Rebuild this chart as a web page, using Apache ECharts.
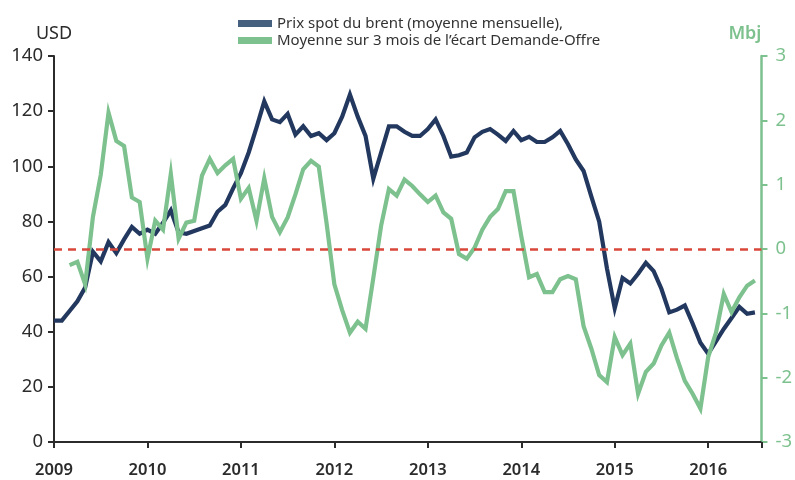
<!DOCTYPE html>
<html><head><meta charset="utf-8">
<script src="https://cdn.jsdelivr.net/npm/echarts@6/dist/echarts.min.js"></script>
<style>html,body{margin:0;padding:0;background:#fff}#c{width:795px;height:480px}</style>
</head><body><div id="c"></div>
<script>
// Monthly series, first value = January 2009
const startYear = 2009;
const brentName = 'Prix spot du brent (moyenne mensuelle),';
const gapName = 'Moyenne sur 3 mois de l’écart Demande-Offre';
// Brent spot price, USD (monthly average)
const brent = [
  44, 44, 47.5, 51, 56, 69, 65.5, 72.5, 68.5, 73.5, 78, 75.5,          // 2009
  77, 75.5, 79.5, 84, 76, 75.5, 76.5, 77.5, 78.5, 83.5, 86, 92,        // 2010
  97.5, 105, 114, 123.5, 117, 116, 119, 111.5, 114.5, 111, 112, 109.5, // 2011
  112, 118, 126, 118, 111, 95.5, 105, 114.5, 114.5, 112.5, 111, 111,   // 2012
  113.5, 117, 111, 103.5, 104, 105, 110.5, 112.5, 113.5, 111.5, 109.2, 112.8, // 2013
  109.5, 110.7, 108.8, 108.8, 110.5, 112.8, 108, 102.5, 98.3, 89, 80, 63,    // 2014
  48.5, 59.5, 57.5, 61, 65, 62, 55.5, 47, 48, 49.5, 43, 36,            // 2015
  32, 36.5, 41, 45, 49, 46.5, 47                                       // 2016
];
// 3-month average of demand-supply gap, Mbj
const gap = [
  null, null, -0.25, -0.2, -0.55, 0.5, 1.15, 2.12, 1.68, 1.6, 0.8, 0.73,   // 2009
  -0.15, 0.44, 0.3, 1.17, 0.16, 0.41, 0.44, 1.14, 1.4, 1.18, 1.3, 1.4,    // 2010
  0.78, 0.95, 0.44, 1.1, 0.5, 0.26, 0.49, 0.85, 1.24, 1.37, 1.28, 0.4,    // 2011
  -0.55, -0.95, -1.3, -1.13, -1.24, -0.45, 0.36, 0.93, 0.83, 1.08, 0.98, 0.85, // 2012
  0.73, 0.83, 0.57, 0.47, -0.08, -0.15, 0.02, 0.3, 0.5, 0.62, 0.9, 0.9,   // 2013
  0.2, -0.44, -0.39, -0.67, -0.67, -0.47, -0.42, -0.47, -1.2, -1.55, -1.96, -2.07, // 2014
  -1.37, -1.65, -1.47, -2.25, -1.91, -1.78, -1.5, -1.3, -1.7, -2.05, -2.25, -2.48, // 2015
  -1.68, -1.3, -0.7, -0.98, -0.75, -0.57, -0.49                           // 2016
];
const gapZero = 0;

const navy = '#23385f', green = '#7dc18e', red = '#d9473b', ink = '#2b2b2b';
const font = 'Noto Sans';
const toX = i => startYear + i / 12;
const brentData = brent.map((v, i) => [toX(i), v]);
const gapData = gap.map((v, i) => v === null ? null : [toX(i), v]).filter(d => d);

const chart = echarts.init(document.getElementById('c'), null, {renderer: 'canvas'});
chart.setOption({
  animation: false,
  textStyle: {fontFamily: font},
  grid: {left: 54, right: 31, top: 56, bottom: 38, containLabel: false},
  legend: {
    orient: 'vertical', left: 233, top: 11, itemGap: 2,
    itemWidth: 34, itemHeight: 7, icon: 'rect',
    textStyle: {fontFamily: font, fontSize: 15, color: '#333', padding: [0, 0, 0, 0]},
    data: [
      {name: brentName, itemStyle: {color: '#46607f'}},
      {name: gapName, itemStyle: {color: green}}
    ]
  },
  xAxis: {
    type: 'value', min: 2009, max: 2016.57, interval: 1,
    axisLine: {show: true, lineStyle: {color: ink, width: 2}},
    axisTick: {show: true, length: 6, lineStyle: {color: ink, width: 2}},
    axisLabel: {
      formatter: v => Number.isInteger(v) ? String(v) : '',
      margin: 20, fontSize: 16.5, fontWeight: 600, color: ink, fontFamily: font
    },
    splitLine: {show: false}
  },
  yAxis: [
    {
      type: 'value', position: 'left', min: 0, max: 140, interval: 20,
      name: 'USD', nameLocation: 'end', nameGap: 13,
      nameTextStyle: {fontSize: 18, color: ink, fontFamily: font, align: 'center'},
      axisLine: {show: true, lineStyle: {color: ink, width: 2}},
      axisTick: {show: true, length: 6, lineStyle: {color: ink, width: 2}},
      axisLabel: {fontSize: 18.5, color: ink, margin: 11, fontFamily: font},
      splitLine: {show: false}
    },
    {
      type: 'value', position: 'right', min: -3, max: 3, interval: 1,
      name: 'Mbj', nameLocation: 'end', nameGap: 13,
      nameTextStyle: {fontSize: 18, color: green, fontWeight: 600, fontFamily: font, align: 'right'},
      axisLine: {show: true, lineStyle: {color: green, width: 2.5}},
      axisTick: {show: true, length: 6, lineStyle: {color: green, width: 2}},
      axisLabel: {fontSize: 18.5, color: green, margin: 14, fontFamily: font},
      splitLine: {show: false}
    }
  ],
  series: [
    {
      name: 'zero', type: 'line', yAxisIndex: 1, data: [], z: 1, silent: true,
      markLine: {
        silent: true, symbol: ['none', 'none'], label: {show: false},
        lineStyle: {color: red, type: [8, 6], width: 2.5},
        data: [{yAxis: gapZero}]
      }
    },
    {
      name: brentName, type: 'line', yAxisIndex: 0, data: brentData, z: 3,
      showSymbol: false, symbol: 'none',
      lineStyle: {color: navy, width: 4.2, join: 'miter'}, itemStyle: {color: navy}
    },
    {
      name: gapName, type: 'line', yAxisIndex: 1, data: gapData, z: 4,
      showSymbol: false, symbol: 'none',
      lineStyle: {color: green, width: 4.2, join: 'miter'}, itemStyle: {color: green}
    }
  ]
});
</script>
</body></html>
